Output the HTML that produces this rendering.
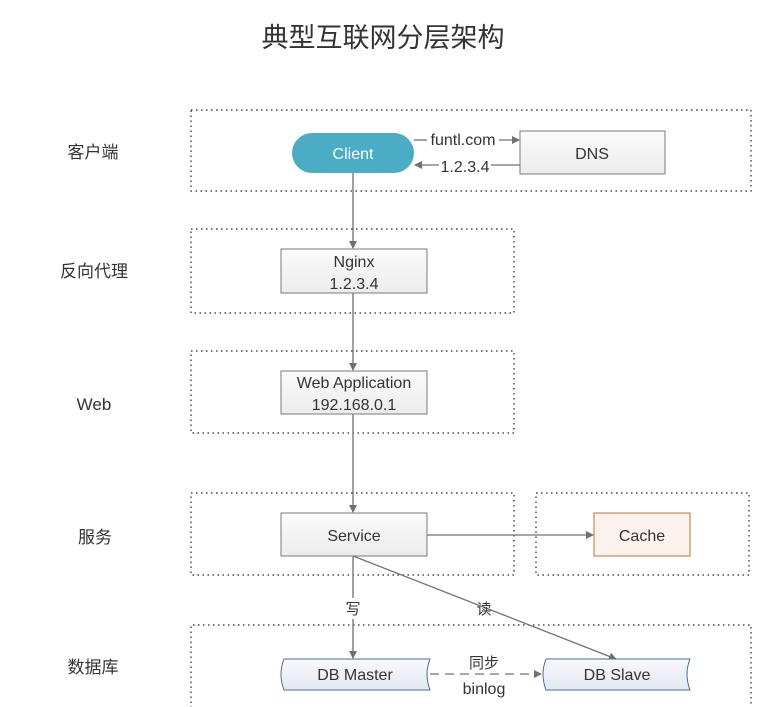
<!DOCTYPE html>
<html><head><meta charset="utf-8"><style>
html,body{margin:0;padding:0;background:#fff;}
svg{display:block;}
text{font-family:"Liberation Sans","Noto Sans CJK SC",sans-serif;fill:#333;}
</style></head><body>
<svg width="766" height="707" viewBox="0 0 766 707" xmlns="http://www.w3.org/2000/svg">
<defs>
<linearGradient id="g" x1="0" y1="0" x2="0" y2="1"><stop offset="0" stop-color="#fbfbfb"/><stop offset="1" stop-color="#ececec"/></linearGradient>
<linearGradient id="gb" x1="0" y1="0" x2="0" y2="1"><stop offset="0" stop-color="#f8f9fc"/><stop offset="1" stop-color="#e3e8f1"/></linearGradient>
<marker id="a" markerWidth="8" markerHeight="8" refX="7" refY="4" orient="auto" markerUnits="userSpaceOnUse"><path d="M0,0 L8,4 L0,8 z" fill="#707070"/></marker>
</defs>
<text x="383" y="47" font-size="27" text-anchor="middle">典型互联网分层架构</text>
<g fill="none" stroke="#222" stroke-width="1.2" stroke-dasharray="1.5,3.5">
<rect x="191" y="110" width="560" height="81"/>
<rect x="191" y="229" width="323" height="84"/>
<rect x="191" y="351" width="323" height="82"/>
<rect x="191" y="493" width="323" height="82"/>
<rect x="536" y="493" width="213" height="82"/>
<path d="M191,708 V625 H751 V708"/>
</g>
<g font-size="17">
<text x="93" y="158" text-anchor="middle">客户端</text>
<text x="94" y="277" text-anchor="middle">反向代理</text>
<text x="94" y="410" text-anchor="middle">Web</text>
<text x="95" y="543" text-anchor="middle">服务</text>
<text x="93" y="673" text-anchor="middle">数据库</text>
</g>
<g stroke="#707070" stroke-width="1.3" fill="none">
<line x1="414" y1="140" x2="427" y2="140"/>
<line x1="499" y1="140" x2="519" y2="140" marker-end="url(#a)"/>
<line x1="520" y1="165" x2="491" y2="165"/>
<line x1="439" y1="165" x2="415" y2="165" marker-end="url(#a)"/>
<line x1="353" y1="173" x2="353" y2="248" marker-end="url(#a)"/>
<line x1="353" y1="293" x2="353" y2="370" marker-end="url(#a)"/>
<line x1="353" y1="414" x2="353" y2="512" marker-end="url(#a)"/>
<line x1="353" y1="556" x2="353" y2="598"/>
<line x1="353" y1="619" x2="353" y2="658" marker-end="url(#a)"/>
<line x1="427" y1="535" x2="593" y2="535" marker-end="url(#a)"/>
<line x1="353" y1="556" x2="616" y2="659" marker-end="url(#a)"/>
<line x1="430" y1="674" x2="541" y2="674" stroke-dasharray="9,6" marker-end="url(#a)"/>
</g>
<rect x="292" y="133" width="122" height="40" rx="20" fill="#4bacc6"/>
<text x="353" y="159" font-size="16" text-anchor="middle" style="fill:#fff">Client</text>
<rect x="520" y="131" width="145" height="43" fill="url(#g)" stroke="#7a7a7a"/>
<text x="592" y="159" font-size="16" text-anchor="middle">DNS</text>
<text x="463" y="145" font-size="16" text-anchor="middle">funtl.com</text>
<text x="465" y="172" font-size="16" text-anchor="middle">1.2.3.4</text>
<rect x="281" y="249" width="146" height="44" fill="url(#g)" stroke="#7a7a7a"/>
<text x="354" y="267" font-size="16" text-anchor="middle">Nginx</text>
<text x="354" y="289" font-size="16" text-anchor="middle">1.2.3.4</text>
<rect x="281" y="371" width="146" height="43" fill="url(#g)" stroke="#7a7a7a"/>
<text x="354" y="388" font-size="16" text-anchor="middle">Web Application</text>
<text x="354" y="410" font-size="16" text-anchor="middle">192.168.0.1</text>
<rect x="281" y="513" width="146" height="43" fill="url(#g)" stroke="#7a7a7a"/>
<text x="354" y="541" font-size="16" text-anchor="middle">Service</text>
<rect x="594" y="513" width="96" height="43" fill="#fdf3ee" stroke="#c5722f"/>
<text x="642" y="541" font-size="16" text-anchor="middle">Cache</text>
<rect x="343" y="598" width="20" height="21" fill="#fff"/>
<text x="353" y="614" font-size="15" text-anchor="middle">写</text>
<text x="484" y="614" font-size="15" text-anchor="middle">读</text>
<path d="M284,659 H430 Q424,674 430,690 H284 Q278,674 284,659 z" fill="url(#gb)" stroke="#4a6b9a"/>
<text x="355" y="680" font-size="16" text-anchor="middle">DB Master</text>
<path d="M546,659 H690 Q684,674 690,690 H546 Q540,674 546,659 z" fill="url(#gb)" stroke="#4a6b9a"/>
<text x="617" y="680" font-size="16" text-anchor="middle">DB Slave</text>
<text x="484" y="668" font-size="15" text-anchor="middle">同步</text>
<text x="484" y="694" font-size="16" text-anchor="middle">binlog</text>
</svg>
</body></html>
